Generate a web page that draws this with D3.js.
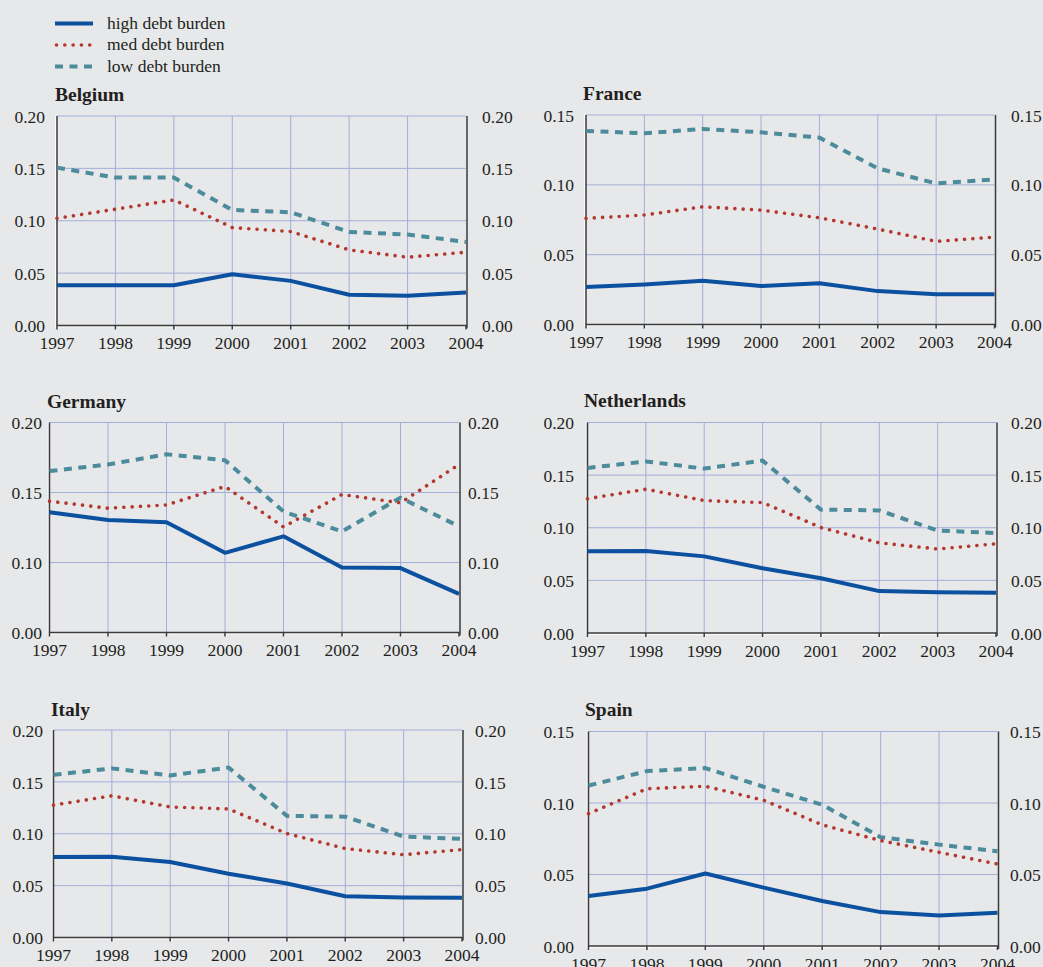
<!DOCTYPE html>
<html>
<head>
<meta charset="utf-8">
<script src="https://cdn.jsdelivr.net/npm/d3@7/dist/d3.min.js"></script>
<style>
  html, body { margin: 0; padding: 0; background: #e7e8ea; }
  svg { display: block; }
  text { font-family: "Liberation Serif", "Times New Roman", serif; fill: #231f20; }
</style>
</head>
<body>
<svg id="chart" width="1043" height="967"></svg>
<script>
// Years on the x axis
const years = [1997, 1998, 1999, 2000, 2001, 2002, 2003, 2004];

// Series names (legend)
const seriesNames = ["high debt burden", "med debt burden", "low debt burden"];

// Country panels
const countries = ["Belgium", "France", "Germany", "Netherlands", "Italy", "Spain"];

// Y-axis tick labels
const ticksTo020 = [0, 0.05, 0.10, 0.15, 0.20];
const ticksTo015 = [0, 0.05, 0.10, 0.15];
const ticksGermany = [0, 0.10, 0.15, 0.20];

// Belgium
const belgiumHigh = [0.0385, 0.0385, 0.0385, 0.0490, 0.0426, 0.0293, 0.0283, 0.0315];
const belgiumMed  = [0.1024, 0.1110, 0.1199, 0.0935, 0.0897, 0.0722, 0.0652, 0.0700];
const belgiumLow  = [0.1507, 0.1412, 0.1412, 0.1103, 0.1081, 0.0893, 0.0868, 0.0798];

// France
const franceHigh = [0.0268, 0.0287, 0.0313, 0.0275, 0.0296, 0.0239, 0.0217, 0.0217];
const franceMed  = [0.0760, 0.0784, 0.0843, 0.0819, 0.0764, 0.0683, 0.0595, 0.0626];
const franceLow  = [0.1386, 0.1369, 0.1400, 0.1376, 0.1338, 0.1118, 0.1010, 0.1039];

// Germany
const germanyHigh = [0.1359, 0.1304, 0.1287, 0.1069, 0.1187, 0.0929, 0.0920, 0.0552];
const germanyMed  = [0.1438, 0.1388, 0.1411, 0.1543, 0.1254, 0.1486, 0.1426, 0.1700];
const germanyLow  = [0.1653, 0.1700, 0.1773, 0.1730, 0.1364, 0.1222, 0.1462, 0.1258];

// Netherlands
const netherlandsHigh = [0.0776, 0.0779, 0.0728, 0.0615, 0.0520, 0.0398, 0.0386, 0.0382];
const netherlandsMed  = [0.1276, 0.1366, 0.1258, 0.1239, 0.1002, 0.0857, 0.0798, 0.0848];
const netherlandsLow  = [0.1568, 0.1630, 0.1562, 0.1638, 0.1172, 0.1165, 0.0973, 0.0950];

// Italy
const italyHigh = [0.0776, 0.0779, 0.0728, 0.0615, 0.0520, 0.0398, 0.0386, 0.0382];
const italyMed  = [0.1276, 0.1366, 0.1258, 0.1239, 0.1002, 0.0857, 0.0798, 0.0848];
const italyLow  = [0.1568, 0.1630, 0.1562, 0.1638, 0.1172, 0.1165, 0.0973, 0.0950];

// Spain
const spainHigh = [0.0350, 0.0401, 0.0507, 0.0408, 0.0315, 0.0237, 0.0214, 0.0232];
const spainMed  = [0.0925, 0.1100, 0.1117, 0.1019, 0.0847, 0.0737, 0.0655, 0.0573];
const spainLow  = [0.1122, 0.1223, 0.1244, 0.1113, 0.0988, 0.0761, 0.0709, 0.0662];

const seriesByCountry = {
  Belgium: [belgiumHigh, belgiumMed, belgiumLow],
  France: [franceHigh, franceMed, franceLow],
  Germany: [germanyHigh, germanyMed, germanyLow],
  Netherlands: [netherlandsHigh, netherlandsMed, netherlandsLow],
  Italy: [italyHigh, italyMed, italyLow],
  Spain: [spainHigh, spainMed, spainLow]
};
const ticksByCountry = {
  Belgium: ticksTo020, France: ticksTo015, Germany: ticksGermany,
  Netherlands: ticksTo020, Italy: ticksTo020, Spain: ticksTo015
};

// Panel geometry
const layout = {
  Belgium:     { left: 57,    right: 466,   top: 116,   bottom: 325.5, lblL: 45,  lblR: 482,  tx: 55,  ty: 101 },
  France:      { left: 586,   right: 994.5, top: 115,   bottom: 324.5, lblL: 574, lblR: 1011, tx: 583, ty: 100 },
  Germany:     { left: 49.5,  right: 459,   top: 422.5, bottom: 632.5, lblL: 42,  lblR: 468,  tx: 47,  ty: 408 },
  Netherlands: { left: 587.5, right: 996,   top: 422.5, bottom: 633,   lblL: 574, lblR: 1011, tx: 584, ty: 407 },
  Italy:       { left: 53.5,  right: 462,   top: 730,   bottom: 937.5, lblL: 43,  lblR: 475,  tx: 51,  ty: 716 },
  Spain:       { left: 588.5, right: 997.5, top: 731.5, bottom: 946,   lblL: 574, lblR: 1010, tx: 585, ty: 716 }
};

// Line styles for each series
const styles = [
  { color: "#0b51a0", width: 4,   dash: null,       cap: "butt" },
  { color: "#b3372d", width: 3.6, dash: "0.01 8.3", cap: "round" },
  { color: "#4c8b9b", width: 4,   dash: "8 6.5",    cap: "butt" }
];

const gridColor = "#a3add9";
const axisColor = "#3b3b3b";
const svg = d3.select("#chart");

// Legend
const legend = svg.append("g");
seriesNames.forEach((name, i) => {
  const yy = [23.5, 45, 66.5][i];
  const st = styles[i];
  legend.append("line")
    .attr("x1", i === 1 ? 56.5 : 55).attr("x2", i === 1 ? 92.5 : 93)
    .attr("y1", yy).attr("y2", yy)
    .attr("stroke", st.color).attr("stroke-width", st.width)
    .attr("stroke-linecap", st.cap)
    .attr("stroke-dasharray", st.dash);
  legend.append("text")
    .attr("x", 107).attr("y", yy + 5)
    .attr("font-size", 17.5)
    .text(name);
});

countries.forEach(country => {
  const L = layout[country];
  const ticks = ticksByCountry[country];
  const g = svg.append("g");

  const x = d3.scalePoint().domain(years).range([L.left, L.right]);
  let y;
  if (country === "Germany") {
    // broken scale: 0-0.10 compressed into the lowest third
    const h = L.bottom - L.top;
    y = d3.scaleLinear().domain([0, 0.10, 0.20]).range([L.bottom, L.bottom - h / 3, L.top]);
  } else {
    y = d3.scaleLinear().domain([0, d3.max(ticks)]).range([L.bottom, L.top]);
  }

  // horizontal grid
  g.selectAll(".hg").data(ticks.filter(t => t > 0)).join("line")
    .attr("x1", L.left).attr("x2", L.right)
    .attr("y1", d => y(d)).attr("y2", d => y(d))
    .attr("stroke", gridColor).attr("stroke-width", 1);

  // vertical grid
  g.selectAll(".vg").data(years.slice(1, -1)).join("line")
    .attr("x1", d => x(d)).attr("x2", d => x(d))
    .attr("y1", L.top).attr("y2", L.bottom)
    .attr("stroke", gridColor).attr("stroke-width", 1);

  // axes: dark line with a white edge on the outside
  g.append("line").attr("x1", L.left - 1.3).attr("x2", L.left - 1.3)
    .attr("y1", L.top - 1).attr("y2", L.bottom + 1.5)
    .attr("stroke", "#ffffff").attr("stroke-width", 1);
  g.append("line").attr("x1", L.left - 1.5).attr("x2", L.right + 1)
    .attr("y1", L.bottom + 1.3).attr("y2", L.bottom + 1.3)
    .attr("stroke", "#ffffff").attr("stroke-width", 1);
  g.selectAll(".tkw").data(years).join("line")
    .attr("x1", d => x(d) + 1.2).attr("x2", d => x(d) + 1.2)
    .attr("y1", L.bottom).attr("y2", L.bottom + 4)
    .attr("stroke", "#ffffff").attr("stroke-width", 1);
  g.append("line").attr("x1", L.left).attr("x2", L.left)
    .attr("y1", L.top).attr("y2", L.bottom + 0.5)
    .attr("stroke", axisColor).attr("stroke-width", 1.5);
  g.append("line").attr("x1", L.left).attr("x2", L.right + 1)
    .attr("y1", L.bottom).attr("y2", L.bottom)
    .attr("stroke", axisColor).attr("stroke-width", 1.5);
  g.append("line").attr("x1", L.right + 1).attr("x2", L.right + 1)
    .attr("y1", L.top).attr("y2", L.bottom + 3)
    .attr("stroke", axisColor).attr("stroke-width", 1.5);
  g.selectAll(".tk").data(years).join("line")
    .attr("x1", d => x(d)).attr("x2", d => x(d))
    .attr("y1", L.bottom).attr("y2", L.bottom + 4)
    .attr("stroke", axisColor).attr("stroke-width", 1.5);

  // tick labels
  const fmt = d3.format(".2f");
  g.selectAll(".yl").data(ticks).join("text")
    .attr("x", L.lblL).attr("y", d => y(d)).attr("dy", "0.38em")
    .attr("text-anchor", "end").attr("font-size", 17.5)
    .text(d => fmt(d));
  g.selectAll(".yr").data(ticks).join("text")
    .attr("x", L.lblR).attr("y", d => y(d)).attr("dy", "0.38em")
    .attr("text-anchor", "start").attr("font-size", 17.5)
    .text(d => fmt(d));
  g.selectAll(".xl").data(years).join("text")
    .attr("x", d => x(d)).attr("y", L.bottom + 23.5)
    .attr("text-anchor", "middle").attr("font-size", 17.5)
    .text(d => d);

  // title
  g.append("text").attr("x", L.tx).attr("y", L.ty)
    .attr("font-size", 19.5).attr("font-weight", "bold")
    .text(country);

  // series lines (low first, high on top)
  const line = d3.line().x(d => x(d[0])).y(d => y(d[1]));
  const series = seriesByCountry[country];
  [2, 1, 0].forEach(i => {
    const st = styles[i];
    g.append("path")
      .datum(years.map((yr, k) => [yr, series[i][k]]))
      .attr("d", line)
      .attr("fill", "none")
      .attr("stroke", st.color).attr("stroke-width", st.width)
      .attr("stroke-linecap", st.cap).attr("stroke-linejoin", "round")
      .attr("stroke-dasharray", st.dash);
  });
});
</script>
</body>
</html>
